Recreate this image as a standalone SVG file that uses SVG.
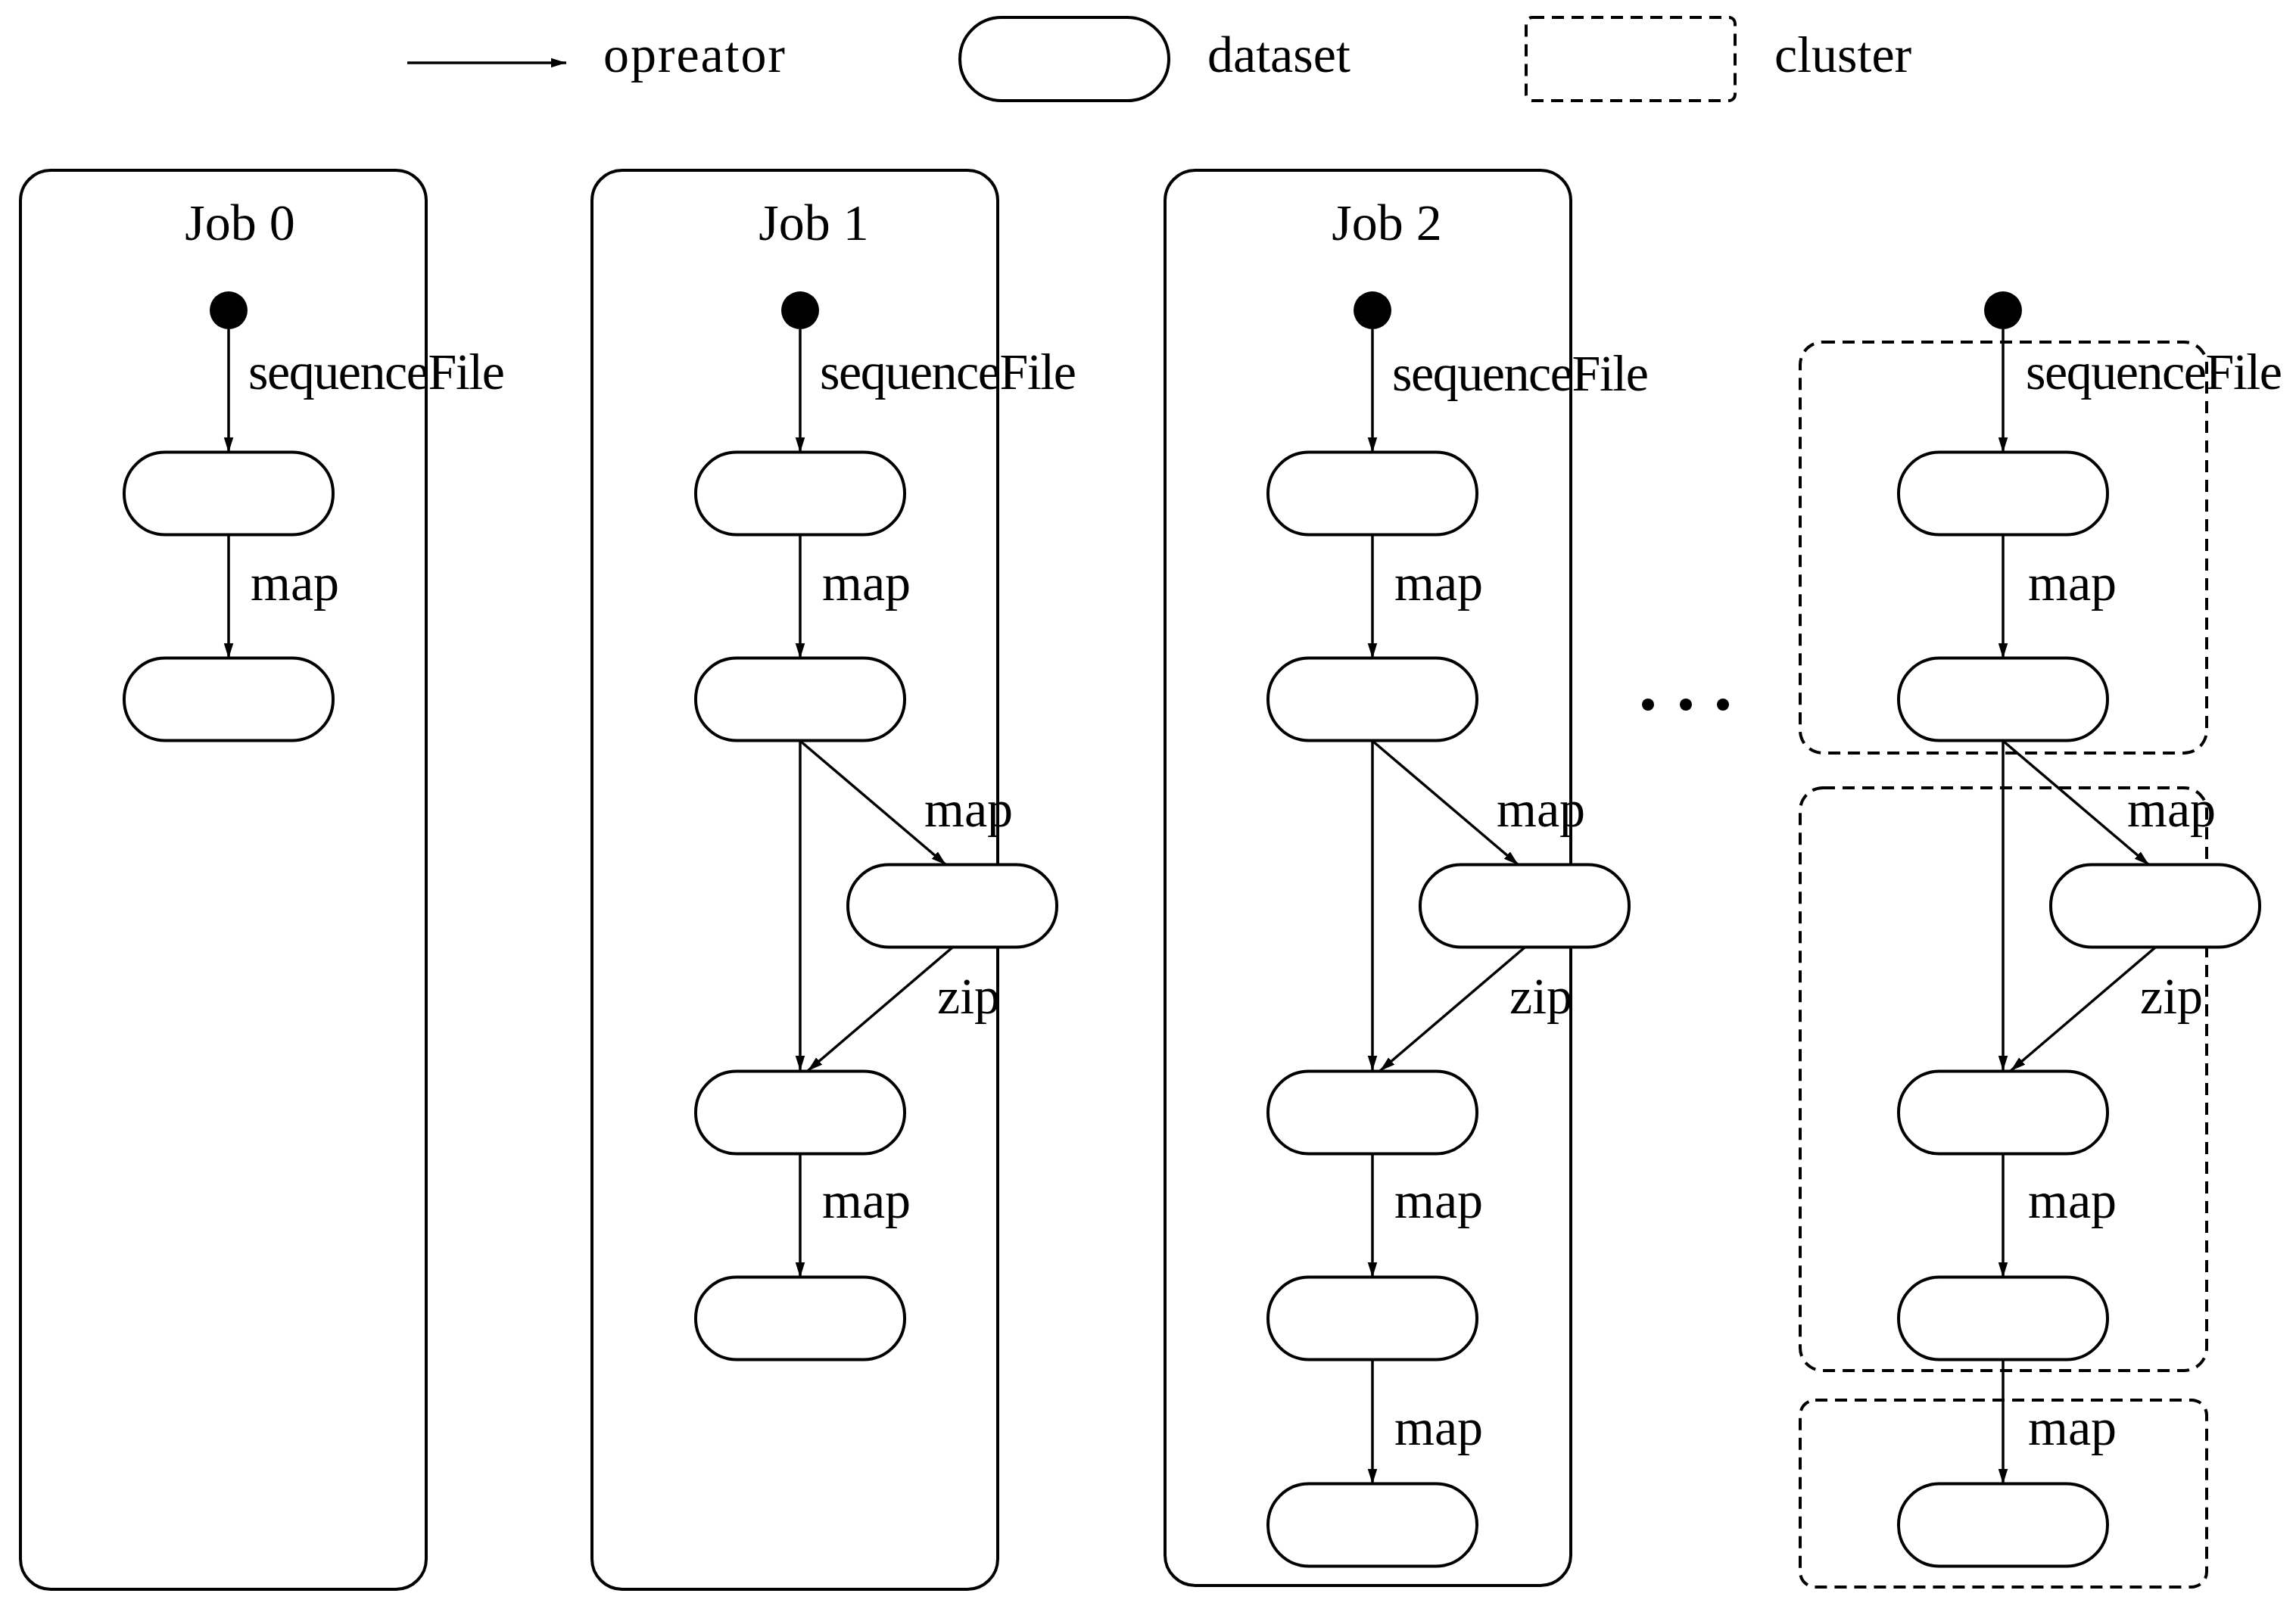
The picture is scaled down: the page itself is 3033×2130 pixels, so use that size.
<svg xmlns="http://www.w3.org/2000/svg" width="3033" height="2130" viewBox="0 0 3033 2130">
<style>
text{font-family:"Liberation Serif","Times New Roman",serif;font-size:68px;fill:#000}
.job{fill:none;stroke:#000;stroke-width:4}
.pill{fill:#fff;stroke:#000;stroke-width:4}
.clu{fill:none;stroke:#000;stroke-width:4;stroke-dasharray:16 10}
.e{fill:none;stroke:#000;stroke-width:3.5;marker-end:url(#ah)}
</style>
<defs>
<marker id="ah" markerUnits="userSpaceOnUse" markerWidth="20" markerHeight="32" refX="32" refY="10" viewBox="0 0 32 20" orient="auto"><path d="M0,0 L32,10 L0,20 Z" fill="#000"/></marker>
<rect id="p" x="-138" y="-54.5" width="276" height="109" rx="54" class="pill"/>
</defs>
<rect width="3033" height="2130" fill="#fff"/>
<g id="legend">
<line x1="538" y1="83" x2="748" y2="83" class="e"/>
<text x="797" y="95" textLength="240">opreator</text>
<rect x="1268" y="23" width="276" height="110" rx="55" class="pill"/>
<text x="1595" y="95">dataset</text>
<rect x="2016" y="23" width="276" height="110" rx="8" class="clu"/>
<text x="2344" y="95">cluster</text>
</g>
<g id="clusters">
<rect x="2378" y="452" width="537" height="543" rx="30" class="clu"/>
<rect x="2378" y="1041" width="537" height="770" rx="30" class="clu"/>
<rect x="2378" y="1850" width="537" height="247" rx="20" class="clu"/>
</g>
<g id="job0"><rect x="27" y="225" width="536" height="1875" rx="40" class="job"/><text x="317" y="317" text-anchor="middle" font-size="74">Job 0</text></g>
<g id="job1"><rect x="782" y="225" width="536" height="1875" rx="40" class="job"/><text x="1075" y="317" text-anchor="middle" font-size="74">Job 1</text></g>
<g id="job2"><rect x="1539" y="225" width="536" height="1870" rx="40" class="job"/><text x="1832" y="317" text-anchor="middle" font-size="74">Job 2</text></g>
<g id="dots"><circle cx="2177" cy="931" r="8"/><circle cx="2227" cy="931" r="8"/><circle cx="2276" cy="931" r="8"/></g>
<g id="nodes">
<g id="j0"><circle cx="302" cy="410" r="25"/><use href="#p" x="302" y="652"/><use href="#p" x="302" y="924"/></g>
<g id="j1"><circle cx="1057" cy="410" r="25"/><use href="#p" x="1057" y="652"/><use href="#p" x="1057" y="924"/><use href="#p" x="1258" y="1197"/><use href="#p" x="1057" y="1470"/><use href="#p" x="1057" y="1742"/></g>
<g id="j2"><circle cx="1813" cy="410" r="25"/><use href="#p" x="1813" y="652"/><use href="#p" x="1813" y="924"/><use href="#p" x="2014" y="1197"/><use href="#p" x="1813" y="1470"/><use href="#p" x="1813" y="1742"/><use href="#p" x="1813" y="2015"/></g>
<g id="j3"><circle cx="2646" cy="410" r="25"/><use href="#p" x="2646" y="652"/><use href="#p" x="2646" y="924"/><use href="#p" x="2847" y="1197"/><use href="#p" x="2646" y="1470"/><use href="#p" x="2646" y="1742"/><use href="#p" x="2646" y="2015"/></g>
</g>
<g id="connectors">
<path class="e" d="M302,435V598"/><path class="e" d="M302,707V870"/>
<path class="e" d="M1057,435V598"/><path class="e" d="M1057,707V870"/><path class="e" d="M1057,979V1415"/><path class="e" d="M1057,979L1250,1143"/><path class="e" d="M1258,1252L1067,1415"/><path class="e" d="M1057,1525V1688"/>
<path class="e" d="M1813,435V598"/><path class="e" d="M1813,707V870"/><path class="e" d="M1813,979V1415"/><path class="e" d="M1813,979L2006,1143"/><path class="e" d="M2014,1252L1823,1415"/><path class="e" d="M1813,1525V1688"/><path class="e" d="M1813,1797V1961"/>
<path class="e" d="M2646,435V598"/><path class="e" d="M2646,707V870"/><path class="e" d="M2646,979V1415"/><path class="e" d="M2646,979L2839,1143"/><path class="e" d="M2847,1252L2656,1415"/><path class="e" d="M2646,1525V1688"/><path class="e" d="M2646,1797V1961"/>
</g>
<g id="labels">
<text x="328" y="514" textLength="339">sequenceFile</text><text x="331" y="793">map</text>
<text x="1083" y="514" textLength="339">sequenceFile</text><text x="1086" y="793">map</text><text x="1221" y="1092">map</text><text x="1238" y="1339">zip</text><text x="1086" y="1609">map</text>
<text x="1839" y="516" textLength="339">sequenceFile</text><text x="1842" y="793">map</text><text x="1977" y="1092">map</text><text x="1994" y="1339">zip</text><text x="1842" y="1609">map</text><text x="1842" y="1909">map</text>
<text x="2676" y="514" textLength="339">sequenceFile</text><text x="2679" y="793">map</text><text x="2810" y="1092">map</text><text x="2827" y="1339">zip</text><text x="2679" y="1609">map</text><text x="2679" y="1909">map</text>
</g>
</svg>
